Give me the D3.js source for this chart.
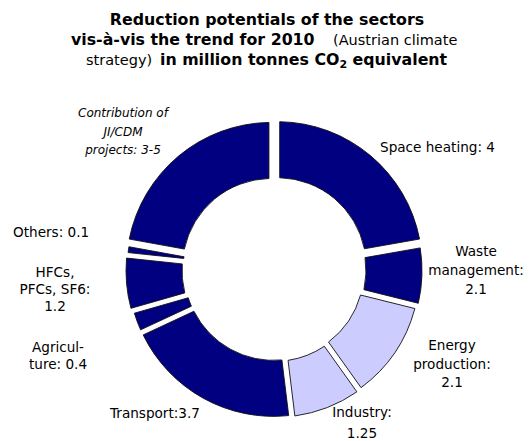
<!DOCTYPE html>
<html>
<head>
<meta charset="utf-8">
<script src="https://cdn.jsdelivr.net/npm/d3@7/dist/d3.min.js"></script>
<style>
  html, body { margin: 0; padding: 0; background: #ffffff; }
  svg { display: block; }
</style>
</head>
<body>
<script>
// ---- data ----
const sectors = ["Space heating", "Waste management", "Energy production", "Industry",
                 "Transport", "Agriculture", "HFCs, PFCs, SF6", "Others",
                 "Contribution of JI/CDM projects"];
const reductionPotentials = ["4", "2.1", "2.1", "1.25", "3.7", "0.4", "1.2", "0.1", "3-5"];
// drawn size of each ring segment (degrees of the ring)
const segmentSizes = [80, 24, 40.5, 28.5, 72, 9, 22, 4.3, 79.7];
// which segments are drawn light
const lightSegments = ["Energy production", "Industry"];
// label texts, one entry per line
const labelLines = [
  ["Space heating: 4"],
  ["Waste", "management:", "2.1"],
  ["Energy", "production:", "2.1"],
  ["Industry:", "1.25"],
  ["Transport:3.7"],
  ["Agricul-", "ture: 0.4"],
  ["HFCs,", "PFCs, SF6:", "1.2"],
  ["Others: 0.1"],
  ["Contribution of", "JI/CDM", "projects: 3-5"]
];

// ---- style / layout ----
const W = 531, H = 441;
const cx = 274, cy = 270.5;
const rIn = 89, rOut = 145;
const dark = "#000080", light = "#CCCCFF";
const explode = [5, 3, 1, 2, 1, 1, 3, 2, 4];
// label anchor (x, first baseline, line height, anchor)
const labelLayout = [
  {x: 380, y: 152, lh: 18, anchor: "start"},
  {x: 476, y: 256, lh: 19, anchor: "middle"},
  {x: 452, y: 350, lh: 18.5, anchor: "middle"},
  {x: 362, y: 417, lh: 21, anchor: "middle"},
  {x: 110, y: 418, lh: 18, anchor: "start"},
  {x: 58, y: 352, lh: 17, anchor: "middle"},
  {x: 55, y: 277, lh: 17, anchor: "middle"},
  {x: 13, y: 237, lh: 18, anchor: "start"},
  {x: 123, y: 117, lh: 18.5, anchor: "middle"}
];

const svg = d3.select("body").append("svg")
  .attr("width", W).attr("height", H)
  .attr("font-family", "'DejaVu Sans', Verdana, sans-serif");

// ---- title ----
const title = svg.append("text").attr("fill", "#000");
title.append("tspan").attr("x", 267).attr("y", 24.5).attr("text-anchor", "middle")
  .attr("font-weight", "bold").attr("font-size", 15.8)
  .text("Reduction potentials of the sectors");
const t2 = svg.append("text").attr("fill", "#000");
t2.append("tspan").attr("x", 71).attr("y", 44.5)
  .attr("font-weight", "bold").attr("font-size", 15.8)
  .text("vis-à-vis the trend for 2010");
t2.append("tspan").attr("x", 333).attr("y", 44.5)
  .attr("font-size", 14.5).text("(Austrian climate");
const t3 = svg.append("text").attr("fill", "#000");
t3.append("tspan").attr("x", 86).attr("y", 64.5)
  .attr("font-size", 14.5).text("strategy)");
t3.append("tspan").attr("x", 160).attr("y", 64.5)
  .attr("font-weight", "bold").attr("font-size", 15.8).text("in million tonnes CO");
t3.append("tspan").attr("dy", 3.5)
  .attr("font-weight", "bold").attr("font-size", 11).text("2");
t3.append("tspan").attr("dy", -3.5)
  .attr("font-weight", "bold").attr("font-size", 15.8).text("\u00A0equivalent");

// ---- ring ----
const pie = d3.pie().value(d => d).sort(null);
const arcs = pie(segmentSizes);
const arc = d3.arc().innerRadius(rIn).outerRadius(rOut).padAngle(0.04).padRadius(125);

const g = svg.append("g").attr("transform", `translate(${cx},${cy})`);
g.selectAll("path")
  .data(arcs)
  .join("path")
  .attr("d", d => arc({startAngle: d.startAngle, endAngle: d.endAngle}))
  .attr("transform", (d, i) => {
    const mid = (d.startAngle + d.endAngle) / 2;
    return `translate(${Math.sin(mid) * explode[i]},${-Math.cos(mid) * explode[i]})`;
  })
  .attr("fill", (d, i) => lightSegments.includes(sectors[i]) ? light : dark)
  .attr("stroke", "#111")
  .attr("stroke-width", 0.9)
  .attr("stroke-linejoin", "round");

// ---- labels ----
labelLines.forEach((lines, i) => {
  const L = labelLayout[i];
  const italic = sectors[i].startsWith("Contribution");
  const t = svg.append("text")
    .attr("text-anchor", L.anchor)
    .attr("font-size", italic ? 12 : 13.6)
    .attr("font-style", italic ? "italic" : "normal")
    .attr("fill", "#000");
  lines.forEach((line, k) => {
    t.append("tspan").attr("x", L.x).attr("y", L.y + k * L.lh).text(line);
  });
});
</script>
</body>
</html>
